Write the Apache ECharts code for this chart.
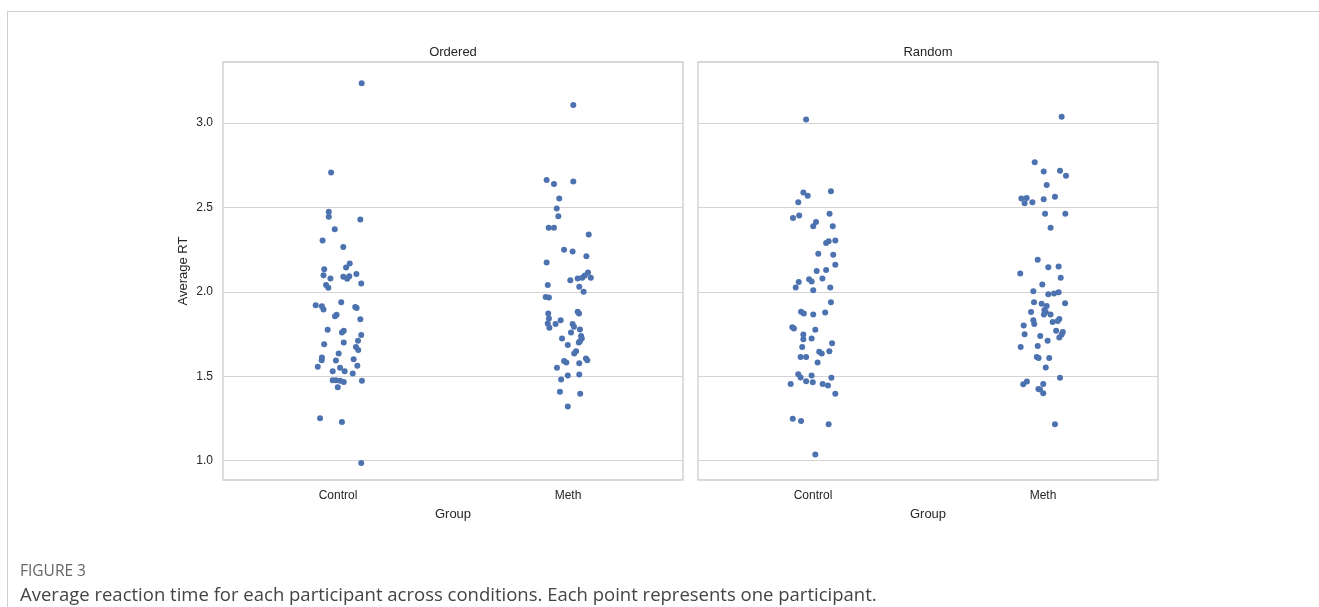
<!DOCTYPE html>
<html>
<head>
<meta charset="utf-8">
<script src="https://cdn.jsdelivr.net/npm/echarts@6/dist/echarts.min.js"></script>
<style>
html,body{margin:0;padding:0;background:#fff;}
#chart{width:1319px;height:607px;}
</style>
</head>
<body>
<div id="chart"></div>
<script>
// ---- data ----
const groups = ['Control', 'Meth'];
const conditions = ['Ordered', 'Random'];
const yTicks = [1.0, 1.5, 2.0, 2.5, 3.0];

const orderedControlRT = [3.235,2.707,2.474,2.444,2.429,2.370,2.304,2.265,2.168,2.144,2.134,2.099,2.079,2.089,2.093,2.077,2.105,2.050,2.040,2.024,1.921,1.915,1.896,1.939,1.911,1.905,1.856,1.864,1.838,1.775,1.759,1.769,1.745,1.690,1.700,1.710,1.674,1.655,1.635,1.611,1.595,1.594,1.601,1.556,1.562,1.550,1.530,1.530,1.517,1.477,1.477,1.473,1.467,1.473,1.435,1.252,1.230,0.987];
const orderedControlJitter = [0.103,-0.030,-0.040,-0.040,0.097,-0.014,-0.067,0.023,0.051,0.035,-0.060,-0.063,-0.033,0.023,0.049,0.040,0.080,0.101,-0.052,-0.042,-0.097,-0.070,-0.063,0.014,0.075,0.081,-0.013,-0.006,0.097,-0.045,0.017,0.025,0.101,-0.060,0.025,0.087,0.078,0.088,0.003,-0.070,-0.071,-0.009,0.068,-0.088,0.084,0.009,0.029,-0.023,0.064,-0.023,-0.009,0.009,0.025,0.104,-0.001,-0.078,0.017,0.101];

const orderedMethRT = [3.106,2.663,2.638,2.654,2.553,2.494,2.448,2.379,2.379,2.340,2.249,2.239,2.211,2.174,2.115,2.097,2.083,2.083,2.079,2.069,2.040,2.030,2.000,1.970,1.967,1.882,1.872,1.872,1.842,1.813,1.787,1.809,1.832,1.809,1.793,1.777,1.759,1.738,1.724,1.724,1.708,1.700,1.686,1.649,1.635,1.605,1.595,1.591,1.582,1.578,1.550,1.505,1.511,1.481,1.408,1.396,1.321];
const orderedMethJitter = [0.023,-0.093,-0.061,0.023,-0.038,-0.049,-0.042,-0.084,-0.061,0.090,-0.017,0.020,0.080,-0.093,0.087,0.073,0.062,0.099,0.042,0.010,-0.088,0.049,0.068,-0.097,-0.083,0.042,0.048,-0.086,-0.083,-0.088,-0.081,-0.054,-0.032,0.020,0.026,0.052,0.013,0.057,0.060,-0.026,0.052,0.047,-0.001,0.035,0.027,0.078,0.084,-0.017,-0.007,0.049,-0.048,-0.001,0.049,-0.030,-0.035,0.053,-0.001];

const randomControlRT = [3.021,2.589,2.569,2.595,2.530,2.438,2.452,2.462,2.413,2.389,2.389,2.290,2.299,2.304,2.225,2.219,2.160,2.124,2.129,2.079,2.075,2.062,2.059,2.026,2.010,2.026,1.939,1.882,1.872,1.866,1.878,1.791,1.783,1.775,1.748,1.720,1.724,1.696,1.674,1.645,1.635,1.649,1.615,1.615,1.582,1.512,1.493,1.505,1.491,1.471,1.465,1.455,1.445,1.455,1.396,1.248,1.236,1.216,1.037];
const randomControlJitter = [-0.030,-0.042,-0.023,0.078,-0.064,-0.087,-0.060,0.072,0.013,0.001,0.086,0.057,0.068,0.097,0.023,0.088,0.097,0.016,0.057,0.041,-0.017,-0.006,-0.062,-0.075,0.001,0.075,0.078,-0.052,-0.040,0.001,0.053,-0.090,-0.083,0.010,-0.042,-0.042,-0.006,0.083,-0.047,0.027,0.038,0.071,-0.054,-0.030,0.020,-0.064,-0.054,-0.006,0.080,-0.030,-0.001,0.042,0.065,-0.097,0.097,-0.088,-0.052,0.068,0.010];

const randomMethRT = [3.037,2.767,2.713,2.717,2.687,2.632,2.553,2.555,2.524,2.530,2.549,2.563,2.462,2.462,2.379,2.190,2.109,2.145,2.150,2.083,2.044,2.004,1.986,1.990,1.998,1.939,1.929,1.917,1.933,1.892,1.880,1.866,1.880,1.866,1.840,1.828,1.822,1.832,1.809,1.801,1.769,1.763,1.748,1.730,1.749,1.739,1.710,1.674,1.680,1.615,1.609,1.609,1.552,1.491,1.453,1.469,1.455,1.425,1.422,1.400,1.216];
const randomMethJitter = [0.081,-0.036,0.003,0.074,0.100,0.016,-0.094,-0.071,-0.080,-0.046,0.003,0.052,0.009,0.097,0.033,-0.023,-0.099,0.023,0.068,0.077,-0.003,-0.042,0.023,0.048,0.068,-0.039,-0.006,0.016,0.096,0.006,0.012,0.004,-0.052,0.033,0.071,0.064,0.042,-0.042,-0.038,-0.084,0.057,0.086,0.081,0.071,-0.080,-0.012,0.020,-0.097,-0.023,-0.027,-0.019,0.027,0.012,0.074,-0.086,-0.070,0.001,-0.020,-0.013,0.001,0.052];

// ---- build ----
function pts(groupIdx, rt, jit) {
  return rt.map((v, i) => [groupIdx + jit[i], v]);
}
const panels = [
  [pts(0, orderedControlRT, orderedControlJitter), pts(1, orderedMethRT, orderedMethJitter)],
  [pts(0, randomControlRT, randomControlJitter), pts(1, randomMethRT, randomMethJitter)]
];

const textColor = '#262626';
const font = '"Liberation Sans", Arial, sans-serif';
const gridTop = 62, gridH = 418, gridW = 460;
const gridLefts = [223, 698];

const chart = echarts.init(document.getElementById('chart'), null, {renderer: 'canvas'});

const grids = gridLefts.map(l => ({
  left: l, top: gridTop, width: gridW, height: gridH,
  show: true, borderColor: '#cccccc', borderWidth: 1.3, backgroundColor: 'transparent'
}));

const xAxes = gridLefts.map((l, i) => ({
  type: 'value', gridIndex: i, min: -0.5, max: 1.5,
  name: 'Group', nameLocation: 'middle', nameGap: 28,
  nameTextStyle: {color: textColor, fontSize: 13, fontFamily: font},
  axisLine: {show: false}, axisTick: {show: false},
  splitLine: {show: false},
  axisLabel: {
    customValues: [0, 1], color: textColor, fontSize: 12, fontFamily: font, margin: 10,
    formatter: v => groups[Math.round(v)]
  }
}));

const yAxes = gridLefts.map((l, i) => ({
  type: 'value', gridIndex: i, min: 0.886, max: 3.361,
  name: i === 0 ? 'Average RT' : '', nameLocation: 'middle', nameGap: 33, nameRotate: 90,
  nameTextStyle: {color: textColor, fontSize: 13, fontFamily: font},
  axisLine: {show: false},
  axisTick: {show: false, customValues: yTicks},
  splitLine: {show: true, lineStyle: {color: '#d4d4d4', width: 1}},
  axisLabel: {
    show: i === 0, customValues: yTicks, color: textColor, fontSize: 12, fontFamily: font, margin: 10,
    formatter: v => v.toFixed(1)
  }
}));

const series = [];
panels.forEach((p, i) => {
  p.forEach((data, g) => {
    series.push({
      type: 'scatter', xAxisIndex: i, yAxisIndex: i, data: data,
      symbolSize: 6, itemStyle: {color: '#4c72b0', opacity: 1},
      silent: true, animation: false, z: 3
    });
  });
});

const graphic = [
  {type: 'line', shape: {x1: 7, y1: 11.5, x2: 1319, y2: 11.5}, style: {stroke: '#cfcfcf', lineWidth: 1}},
  {type: 'line', shape: {x1: 7.5, y1: 11, x2: 7.5, y2: 607}, style: {stroke: '#cfcfcf', lineWidth: 1}},
  {type: 'text', x: gridLefts[0] + gridW / 2, y: 52, style: {text: conditions[0], fill: textColor, font: '13px ' + font, textAlign: 'center', textVerticalAlign: 'middle'}},
  {type: 'text', x: gridLefts[1] + gridW / 2, y: 52, style: {text: conditions[1], fill: textColor, font: '13px ' + font, textAlign: 'center', textVerticalAlign: 'middle'}},
  {type: 'text', x: 20, y: 572, style: {text: 'FIGURE 3', fill: '#666666', font: '15.5px "Open Sans", sans-serif', textVerticalAlign: 'middle'}},
  {type: 'text', x: 20, y: 596, style: {text: 'Average reaction time for each participant across conditions. Each point represents one participant.', fill: '#444444', font: '18.5px "Open Sans", sans-serif', textVerticalAlign: 'middle'}}
];

chart.setOption({
  animation: false,
  backgroundColor: '#ffffff',
  grid: grids, xAxis: xAxes, yAxis: yAxes, series: series, graphic: graphic
});
</script>
</body>
</html>
